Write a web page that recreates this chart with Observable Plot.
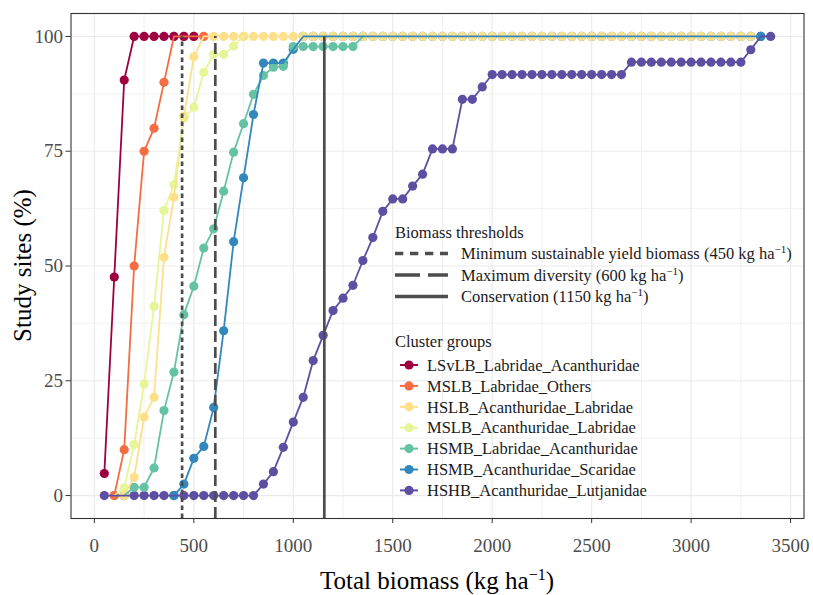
<!DOCTYPE html>
<html>
<head>
<meta charset="utf-8">
<script src="https://cdn.jsdelivr.net/npm/d3@7"></script>
<script src="https://cdn.jsdelivr.net/npm/@observablehq/plot@0.6"></script>
<style>
  html, body { margin: 0; padding: 0; background: #fff; }
  #chart { width: 813px; height: 595px; }
</style>
</head>
<body>
<div id="chart"></div>
<script>
// ---------- data ----------
const groups = [
  "LSvLB_Labridae_Acanthuridae",
  "MSLB_Labridae_Others",
  "HSLB_Acanthuridae_Labridae",
  "MSLB_Acanthuridae_Labridae",
  "HSMB_Labridae_Acanthuridae",
  "HSMB_Acanthuridae_Scaridae",
  "HSHB_Acanthuridae_Lutjanidae"
];
const groupColors = ["#9E0142", "#F46D43", "#FEE08B", "#E6F598", "#66C2A5", "#3288BD", "#5E4FA2"];
const biomassStep = 50;               // spacing of the biomass grid (kg/ha)
const startBiomass = [50, 100, 150, 100, 150, 400, 50];

const sitesLSvLB = [4.8, 47.6, 90.5, 100, 100, 100, 100, 100, 100, 100];
const sitesMSLBOthers = [0, 10, 50, 75, 80, 90, 100, 100, 100, 100];
const sitesHSLB = [0, 4.0, 17.1, 21.4, 51.9, 65.0, 82.6, 95.6,
  100, 100, 100, 100, 100, 100, 100, 100, 100, 100, 100, 100, 100, 100,
  100, 100, 100, 100, 100, 100, 100, 100, 100, 100, 100, 100, 100, 100,
  100, 100, 100, 100, 100, 100, 100, 100, 100, 100, 100, 100, 100, 100,
  100, 100, 100, 100, 100, 100, 100, 100, 100, 100, 100, 100, 100, 100];
const sitesMSLBAcan = [0, 1.7, 11.1, 24.3, 41.2, 62.1, 67.7, 82.2, 84.6, 92.2, 96.1, 96.1, 97.9, 100];
const sitesHSMBLab = [0, 1.8, 1.8, 6.0, 18.5, 26.9, 39.4, 45.6, 53.9, 58.1, 66.3, 74.8, 81.0, 87.4,
  91.5, 93.3, 93.5, 97.8, 97.8, 97.8, 97.8, 97.8, 97.8, 97.8, 100];
const sitesHSMBAcan = [0, 2.5, 8.1, 10.7, 19.2, 35.9, 55.3, 69.2, 83.0, 94.2, 94.2, 94.2, 97.2,
  100, 100, 100, 100, 100, 100, 100, 100, 100, 100, 100, 100, 100, 100,
  100, 100, 100, 100, 100, 100, 100, 100, 100, 100, 100, 100, 100, 100,
  100, 100, 100, 100, 100, 100, 100, 100, 100, 100, 100, 100, 100, 100,
  100, 100, 100, 100, 100];
const sitesHSHB = [0, 0, 0, 0, 0, 0, 0, 0, 0, 0, 0, 0, 0, 0, 0, 0,
  2.5, 5.2, 10.5, 16.0, 21.4, 29.4, 34.9, 40.3, 43.0, 45.8, 51.2, 56.2, 61.9, 64.6, 64.6,
  67.4, 70.0, 75.5, 75.5, 75.5, 86.3, 86.3, 89.0,
  91.7, 91.7, 91.7, 91.7, 91.7, 91.7, 91.7, 91.7, 91.7, 91.7, 91.7, 91.7, 91.7, 91.7,
  94.4, 94.4, 94.4, 94.4, 94.4, 94.4, 94.4, 94.4, 94.4, 94.4, 94.4, 94.4,
  97.1, 100, 100];
const seriesValues = [sitesLSvLB, sitesMSLBOthers, sitesHSLB, sitesMSLBAcan, sitesHSMBLab, sitesHSMBAcan, sitesHSHB];

const thresholdNames = ["Minimum sustainable yield biomass", "Maximum diversity", "Conservation"];
const thresholdLabels = [450, 600, 1150];
const thresholdDrawn = [441, 608, 1156];
const thresholdDash = ["4.5,3.5", "11,5", null];
const thresholdKeyDash = ["8.3,6.7", "25,8", null];

const xTicks = [0, 500, 1000, 1500, 2000, 2500, 3000, 3500];
const xMinor = [250, 750, 1250, 1750, 2250, 2750, 3250];
const yTicks = [0, 25, 50, 75, 100];
const yMinor = [12.5, 37.5, 62.5, 87.5];

// ---------- build rows ----------
const rowsByGroup = groups.map((g, gi) =>
  seriesValues[gi].map((v, i) => ({group: g, biomass: startBiomass[gi] + i * biomassStep, sites: v}))
);
const thresholdRows = thresholdDrawn.map((x, i) => ({x, name: thresholdNames[i]}));

const serif = "'Liberation Serif', 'DejaVu Serif', serif";

const dotMarks = groups.map((g, gi) => gi).reverse().map(gi =>
  Plot.dot(rowsByGroup[gi], {x: "biomass", y: "sites", fill: groupColors[gi], r: 4.6, stroke: "none"})
);
const lineMarks = groups.map((g, gi) =>
  Plot.line(rowsByGroup[gi], {x: "biomass", y: "sites", stroke: groupColors[gi], strokeWidth: 1.8})
);
const ruleMarks = thresholdRows.map((t, i) =>
  Plot.ruleX([t], {x: "x", y1: -5, y2: 100, stroke: "#4D4D4D", strokeWidth: 2.7,
    strokeDasharray: thresholdDash[i] || undefined})
);

const chart = Plot.plot({
  width: 813,
  height: 595,
  marginLeft: 70.5,
  marginRight: 9.5,
  marginTop: 13,
  marginBottom: 77,
  style: {fontFamily: serif, background: "#fff", overflow: "visible"},
  x: {domain: [-117.5, 3567.5]},
  y: {domain: [-5, 105]},
  marks: [
    Plot.gridX(xMinor, {stroke: "#EBEBEB", strokeOpacity: 1, strokeWidth: 0.7}),
    Plot.gridY(yMinor, {stroke: "#EBEBEB", strokeOpacity: 1, strokeWidth: 0.7}),
    Plot.gridX(xTicks, {stroke: "#EBEBEB", strokeOpacity: 1, strokeWidth: 1.2}),
    Plot.gridY(yTicks, {stroke: "#EBEBEB", strokeOpacity: 1, strokeWidth: 1.2}),
    ...dotMarks,
    ...lineMarks,
    ...ruleMarks,
    Plot.frame({stroke: "#333333", strokeWidth: 1.1}),
    Plot.axisX(xTicks, {tickSize: 5, tickPadding: 15, fontSize: 19, fill: "#4D4D4D", stroke: "#333333",
      label: null, tickFormat: d => String(d)}),
    Plot.axisY(yTicks, {tickSize: 5, tickPadding: 3, fontSize: 19, fill: "#4D4D4D", stroke: "#333333",
      label: null, tickFormat: d => String(d)})
  ]
});
document.getElementById("chart").appendChild(chart);

// ---------- titles & legend ----------
const svg = d3.select(chart);

function supText(sel, before, after, supSize, shift) {
  sel.append("tspan").text(before);
  sel.append("tspan").attr("font-size", supSize).attr("dy", -shift).text("\u22121");
  sel.append("tspan").attr("dy", shift).text(after);
}

const xt = svg.append("text").attr("x", 437).attr("y", 580).attr("dy", "0.35em")
  .attr("text-anchor", "middle").attr("font-family", serif).attr("font-size", 25).attr("fill", "#000");
supText(xt, "Total biomass (kg ha", ")", 16, 9);

svg.append("text").attr("transform", "translate(22,265.5) rotate(-90)").attr("dy", "0.35em")
  .attr("text-anchor", "middle").attr("font-family", serif).attr("font-size", 25).attr("fill", "#000")
  .text("Study sites (%)");

const lg = svg.append("g").attr("font-family", serif).attr("font-size", 16.5).attr("fill", "#1A1A1A")
  .attr("text-anchor", "start");
lg.append("text").attr("x", 395).attr("y", 232).attr("dy", "0.35em").text("Biomass thresholds");
const tRowY = [253.5, 275, 296.5];
thresholdRows.forEach((t, i) => {
  lg.append("line").attr("x1", 395).attr("x2", 448).attr("y1", tRowY[i]).attr("y2", tRowY[i])
    .attr("stroke", "#4D4D4D").attr("stroke-width", 3.4)
    .attr("stroke-dasharray", thresholdKeyDash[i]);
  const tx = lg.append("text").attr("x", 461).attr("y", tRowY[i]).attr("dy", "0.35em");
  supText(tx, `${thresholdNames[i]} (${thresholdLabels[i]} kg ha`, ")", 11, 6);
});

lg.append("text").attr("x", 395).attr("y", 341).attr("dy", "0.35em").text("Cluster groups");
groups.forEach((g, gi) => {
  const y = 365 + gi * 20.9;
  lg.append("line").attr("x1", 400).attr("x2", 418).attr("y1", y).attr("y2", y)
    .attr("stroke", groupColors[gi]).attr("stroke-width", 2);
  lg.append("circle").attr("cx", 409).attr("cy", y).attr("r", 4.6).attr("fill", groupColors[gi]);
  lg.append("text").attr("x", 427).attr("y", y).attr("dy", "0.35em").text(g);
});
</script>
</body>
</html>
